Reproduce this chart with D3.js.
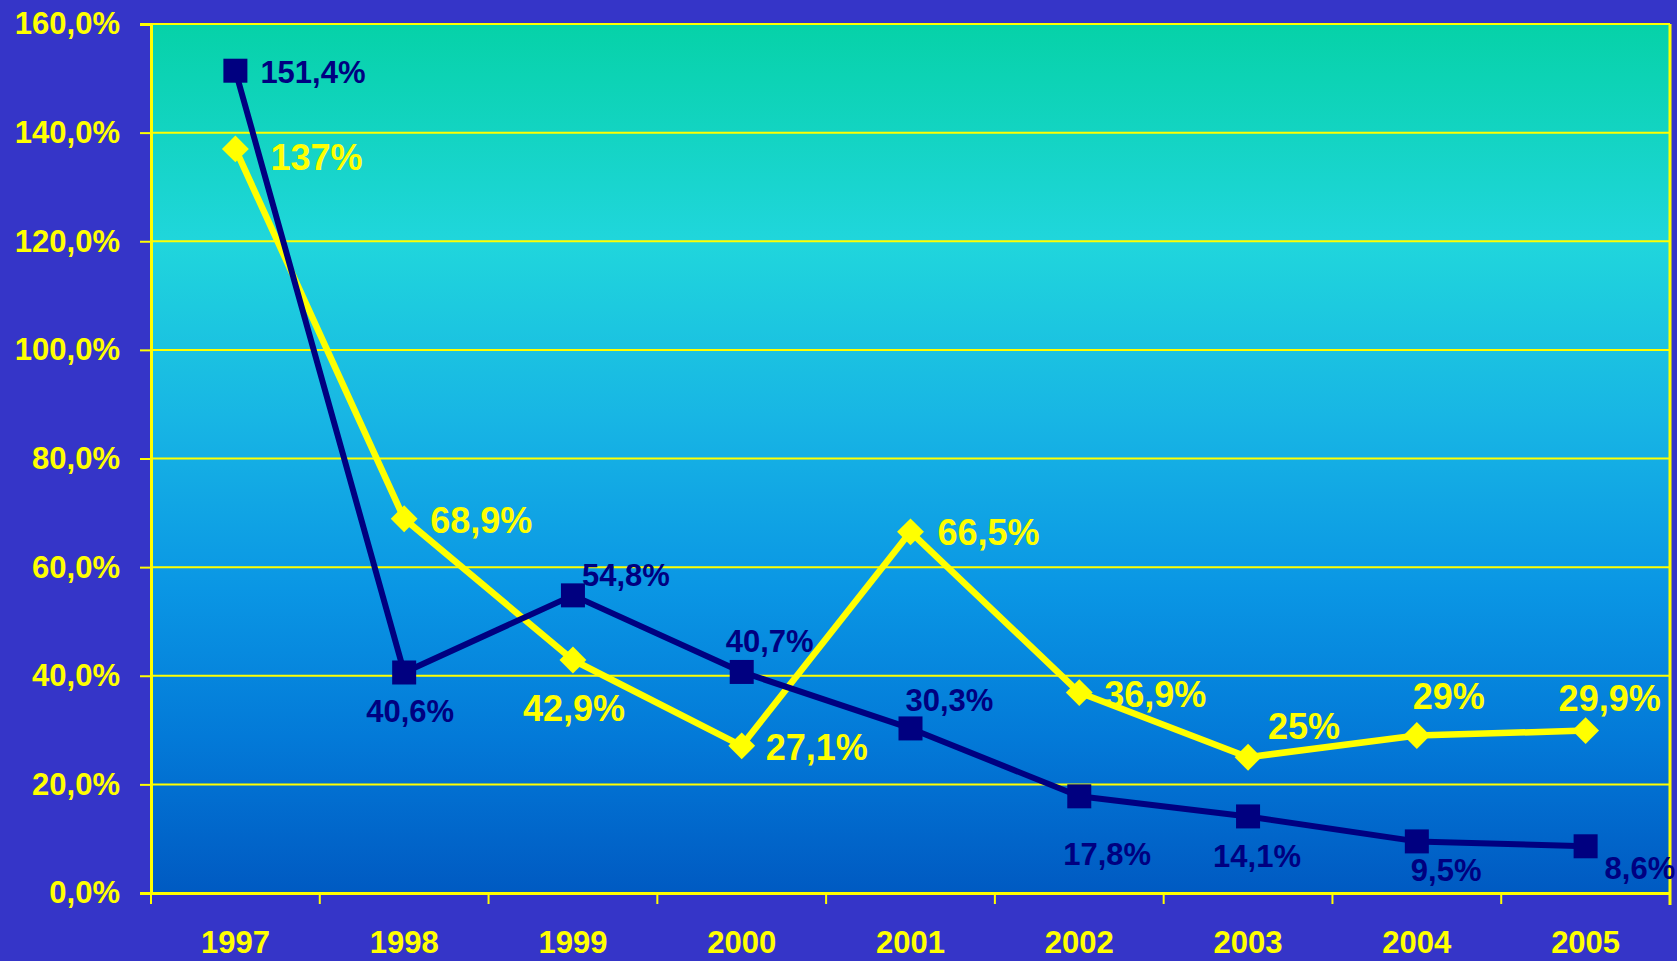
<!DOCTYPE html>
<html lang="en">
<head>
  <meta charset="UTF-8" />
  <title>1997-2005</title>
  <script src="https://d3js.org/d3.v7.min.js"></script>
  <style>
    html, body {
      margin: 0;
      padding: 0;
      background-color: #3535c8;
      overflow: hidden;
    }
    svg {
      display: block;
      font-family: 'Liberation Sans', Arial, sans-serif;
      font-weight: bold;
    }
  </style>
</head>
<body>
<div id="chart"></div>
<script>
const years = ["1997", "1998", "1999", "2000", "2001", "2002", "2003", "2004", "2005"];
const navySeries = [151.4, 40.6, 54.8, 40.7, 30.3, 17.8, 14.1, 9.5, 8.6];
const navyLabels = ["151,4%", "40,6%", "54,8%", "40,7%", "30,3%", "17,8%", "14,1%", "9,5%", "8,6%"];
const yellowSeries = [137, 68.9, 42.9, 27.1, 66.5, 36.9, 25, 29, 29.9];
const yellowLabels = ["137%", "68,9%", "42,9%", "27,1%", "66,5%", "36,9%", "25%", "29%", "29,9%"];
const yTicks = [0, 20, 40, 60, 80, 100, 120, 140, 160];
const yTickLabels = ["0,0%", "20,0%", "40,0%", "60,0%", "80,0%", "100,0%", "120,0%", "140,0%", "160,0%"];

// label placement relative to each marker (dx = left edge, dy = text middle)
const navyOffsets = [[25, 2], [-38, 39], [9, -20], [-16, -30], [-5, -28], [-16, 58], [-35, 40], [-6, 29], [19, 22]];
const yellowOffsets = [[35, 9], [26, 2], [-50, 49], [24, 2], [27, 1], [25, 2], [20, -31], [-4, -39], [-27, -32]];

const W = 1677, H = 961;
const margin = { top: 24, right: 7, bottom: 68, left: 151 };
const width = W - margin.left - margin.right,
      height = H - margin.top - margin.bottom;

const svg = d3.select("#chart")
  .append("svg")
  .attr("width", W)
  .attr("height", H);

const defs = svg.append("defs");
const grad = defs.append("linearGradient")
  .attr("id", "plotGrad")
  .attr("x1", 0).attr("y1", 0).attr("x2", 0).attr("y2", 1);
[[0, "#06d2a8"], [0.25, "#20d6dc"], [0.45, "#18b6e4"], [0.65, "#0a96e4"], [0.82, "#037ad8"], [1, "#005ac2"]]
  .forEach(s => grad.append("stop").attr("offset", s[0]).attr("stop-color", s[1]));

const g = svg.append("g")
  .attr("transform", `translate(${margin.left},${margin.top})`);

const x = d3.scaleBand().domain(years).range([0, width]);
const y = d3.scaleLinear().domain([0, 160]).range([height, 0]);
const cx = d => x(d) + x.bandwidth() / 2;

g.append("rect")
  .attr("width", width)
  .attr("height", height)
  .attr("fill", "url(#plotGrad)");

// grid lines
g.append("g")
  .selectAll("line")
  .data(yTicks.filter(t => t > 0))
  .join("line")
  .attr("x1", 0).attr("x2", width)
  .attr("y1", d => y(d)).attr("y2", d => y(d))
  .attr("stroke", "#ffff00")
  .attr("stroke-width", 2);

// right border
g.append("line")
  .attr("x1", width).attr("x2", width)
  .attr("y1", 0).attr("y2", height + 12)
  .attr("stroke", "#ffff00")
  .attr("stroke-width", 3);

// y axis
const yAxis = g.append("g")
  .call(d3.axisLeft(y).tickValues(yTicks).tickSize(11).tickPadding(20)
    .tickFormat((d, i) => yTickLabels[i]));
yAxis.select(".domain").attr("stroke", "#ffff00").attr("stroke-width", 3);
yAxis.selectAll(".tick line").attr("stroke", "#ffff00").attr("stroke-width", 2);
yAxis.selectAll(".tick text")
  .attr("fill", "#ffff00")
  .style("font-size", "31px")
  .style("font-family", "'Liberation Sans', Arial, sans-serif")
  .style("font-weight", "bold");

// x axis
const xAxis = g.append("g")
  .attr("transform", `translate(0,${height})`)
  .call(d3.axisBottom(x).tickSize(0).tickPadding(38));
xAxis.select(".domain").attr("stroke", "#ffff00").attr("stroke-width", 3);
xAxis.selectAll(".tick text")
  .attr("fill", "#ffff00")
  .style("font-size", "31px")
  .style("font-family", "'Liberation Sans', Arial, sans-serif")
  .style("font-weight", "bold");
g.append("g")
  .attr("transform", `translate(0,${height})`)
  .selectAll("line")
  .data(d3.range(years.length + 1))
  .join("line")
  .attr("x1", i => i * x.bandwidth()).attr("x2", i => i * x.bandwidth())
  .attr("y1", 0).attr("y2", 11)
  .attr("stroke", "#ffff00")
  .attr("stroke-width", 2);

const line = d3.line()
  .x((d, i) => cx(years[i]))
  .y(d => y(d));

// yellow series
g.append("path")
  .datum(yellowSeries)
  .attr("d", line)
  .attr("fill", "none")
  .attr("stroke", "#ffff00")
  .attr("stroke-width", 6.5)
  .attr("stroke-linejoin", "round");

// navy series
g.append("path")
  .datum(navySeries)
  .attr("d", line)
  .attr("fill", "none")
  .attr("stroke", "#000080")
  .attr("stroke-width", 6)
  .attr("stroke-linejoin", "round");

g.append("g")
  .selectAll("path")
  .data(yellowSeries)
  .join("path")
  .attr("d", d3.symbol(d3.symbolDiamond2, 460))
  .attr("transform", (d, i) => `translate(${cx(years[i])},${y(d)})`)
  .attr("fill", "#ffff00");

g.append("g")
  .selectAll("rect")
  .data(navySeries)
  .join("rect")
  .attr("x", (d, i) => cx(years[i]) - 12)
  .attr("y", d => y(d) - 12)
  .attr("width", 24)
  .attr("height", 24)
  .attr("fill", "#000080");

// data labels
g.append("g")
  .selectAll("text")
  .data(navySeries)
  .join("text")
  .attr("x", (d, i) => cx(years[i]) + navyOffsets[i][0])
  .attr("y", (d, i) => y(d) + navyOffsets[i][1])
  .attr("dominant-baseline", "central")
  .attr("fill", "#000080")
  .style("font-size", "31px")
  .text((d, i) => navyLabels[i]);

g.append("g")
  .selectAll("text")
  .data(yellowSeries)
  .join("text")
  .attr("x", (d, i) => cx(years[i]) + yellowOffsets[i][0])
  .attr("y", (d, i) => y(d) + yellowOffsets[i][1])
  .attr("dominant-baseline", "central")
  .attr("fill", "#ffff00")
  .style("font-size", "36px")
  .text((d, i) => yellowLabels[i]);
</script>
</body>
</html>
